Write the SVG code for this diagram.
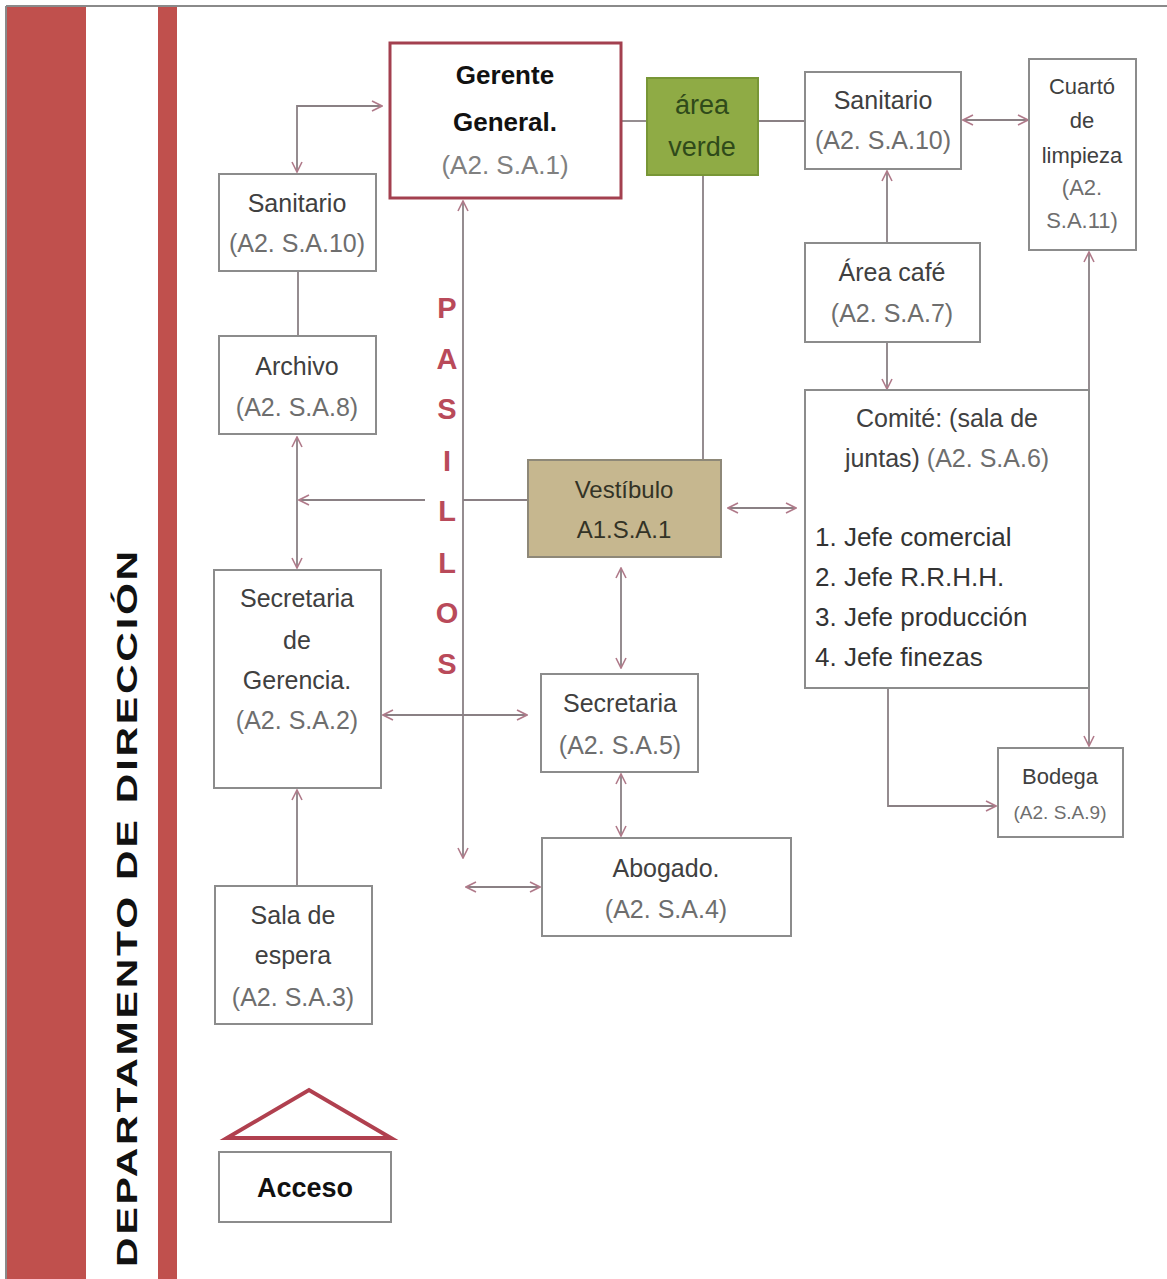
<svg xmlns="http://www.w3.org/2000/svg" width="1167" height="1279" viewBox="0 0 1167 1279">
<style>
.box{fill:#ffffff;stroke:#8c8c8c;stroke-width:2}
.t{font-family:"Liberation Sans",Arial,sans-serif;font-size:25px;fill:#404040;text-anchor:middle}
.c{font-family:"Liberation Sans",Arial,sans-serif;font-size:25px;fill:#6e6e6e;text-anchor:middle}
.li{font-family:"Liberation Sans",Arial,sans-serif;font-size:26px;fill:#333333;text-anchor:start}
.s{font-size:22px}
.b{font-weight:bold;fill:#111111}
.p{font-family:"Liberation Sans",Arial,sans-serif;font-size:29px;font-weight:bold;fill:#b94a5a;text-anchor:middle}
.ln{fill:none;stroke:#8a8084;stroke-width:1.8}
.ar{marker-end:url(#ah)}
.ar2{marker-start:url(#ah);marker-end:url(#ah)}
</style>
<defs>
<marker id="ah" viewBox="0 0 12 12" refX="11" refY="6" markerWidth="12" markerHeight="12" markerUnits="userSpaceOnUse" orient="auto-start-reverse">
<path d="M1,1 L11,6 L1,11" fill="none" stroke="#b07a8a" stroke-width="1.6"/>
</marker>
</defs>
<rect x="0" y="0" width="1167" height="1279" fill="#ffffff"/>
<g id="frame">
<line x1="6" y1="6" x2="1167" y2="6" stroke="#8a8a8a" stroke-width="2"/>
<line x1="6" y1="6" x2="6" y2="1279" stroke="#8a8a8a" stroke-width="2"/>
<rect x="7" y="7" width="79" height="1272" fill="#c0504d"/>
<rect x="158" y="7" width="19" height="1272" fill="#c0504d"/>
<text transform="translate(137,1267) rotate(-90)" font-family="'Liberation Sans',Arial,sans-serif" font-size="29" font-weight="bold" fill="#111111" letter-spacing="2" textLength="719" lengthAdjust="spacingAndGlyphs">DEPARTAMENTO DE   DIRECCIÓN</text>
</g>
<g id="connectors">
<path class="ln ar2" d="M297,172 V106 H382"/>
<line class="ln" x1="298" y1="272" x2="298" y2="336"/>
<line class="ln ar2" x1="297" y1="437" x2="297" y2="568"/>
<line class="ln ar" x1="425" y1="500" x2="299" y2="500"/>
<line class="ln" x1="463" y1="500" x2="528" y2="500"/>
<line class="ln ar2" x1="463" y1="201" x2="463" y2="858"/>
<line class="ln" x1="621" y1="121" x2="647" y2="121"/>
<line class="ln" x1="758" y1="121" x2="805" y2="121"/>
<line class="ln" x1="703" y1="175" x2="703" y2="460"/>
<line class="ln ar2" x1="963" y1="120" x2="1028" y2="120"/>
<line class="ln ar" x1="887" y1="243" x2="887" y2="171"/>
<line class="ln ar" x1="887" y1="342" x2="887" y2="389"/>
<line class="ln ar2" x1="1089" y1="252" x2="1089" y2="746"/>
<line class="ln ar2" x1="728" y1="508" x2="796" y2="508"/>
<line class="ln ar2" x1="621" y1="568" x2="621" y2="668"/>
<line class="ln ar2" x1="383" y1="715" x2="527" y2="715"/>
<line class="ln ar2" x1="621" y1="774" x2="621" y2="836"/>
<line class="ln ar2" x1="466" y1="887" x2="540" y2="887"/>
<path class="ln ar" d="M888,688 V806 H996"/>
<line class="ln ar" x1="297" y1="886" x2="297" y2="790"/>
</g>
<g id="pasillos">
<text class="p" x="447" y="318">P</text>
<text class="p" x="447" y="369">A</text>
<text class="p" x="447" y="419">S</text>
<text class="p" x="447" y="471">I</text>
<text class="p" x="447" y="521">L</text>
<text class="p" x="447" y="573">L</text>
<text class="p" x="447" y="623">O</text>
<text class="p" x="447" y="674">S</text>
</g>
<g id="gerente">
<rect x="390" y="43" width="231" height="155" fill="#ffffff" stroke="#a3404f" stroke-width="3"/>
<text class="t b" x="505" y="84" style="font-size:26px">Gerente</text>
<text class="t b" x="505" y="131" style="font-size:26px">General.</text>
<text class="c" x="505" y="174" style="font-size:26px;fill:#808080">(A2. S.A.1)</text>
</g>
<g id="area-verde">
<rect x="647" y="78" width="111" height="97" fill="#8fab45" stroke="#789636" stroke-width="2"/>
<text class="t" x="702" y="114" style="font-size:27px;fill:#2f4a1a">área</text>
<text class="t" x="702" y="156" style="font-size:27px;fill:#2f4a1a">verde</text>
</g>
<g id="sanitario-izq">
<rect class="box" x="219" y="174" width="157" height="97"/>
<text class="t" x="297" y="212">Sanitario</text>
<text class="c" x="297" y="252">(A2. S.A.10)</text>
</g>
<g id="archivo">
<rect class="box" x="219" y="336" width="157" height="98"/>
<text class="t" x="297" y="375">Archivo</text>
<text class="c" x="297" y="416">(A2. S.A.8)</text>
</g>
<g id="sanitario-der">
<rect class="box" x="805" y="72" width="156" height="97"/>
<text class="t" x="883" y="109">Sanitario</text>
<text class="c" x="883" y="149">(A2. S.A.10)</text>
</g>
<g id="cuarto-limpieza">
<rect class="box" x="1029" y="59" width="107" height="191"/>
<text class="t s" x="1082" y="94">Cuartó</text>
<text class="t s" x="1082" y="128">de</text>
<text class="t s" x="1082" y="163">limpieza</text>
<text class="c s" x="1082" y="195">(A2.</text>
<text class="c s" x="1082" y="228">S.A.11)</text>
</g>
<g id="area-cafe">
<rect class="box" x="805" y="243" width="175" height="99"/>
<text class="t" x="892" y="281">Área café</text>
<text class="c" x="892" y="322">(A2. S.A.7)</text>
</g>
<g id="comite">
<rect class="box" x="805" y="390" width="284" height="298"/>
<text class="t" x="947" y="427">Comité: (sala de</text>
<text class="t" x="947" y="467">juntas) <tspan style="fill:#6e6e6e">(A2. S.A.6)</tspan></text>
<text class="li" x="815" y="546">1.  Jefe comercial</text>
<text class="li" x="815" y="586">2.  Jefe R.R.H.H.</text>
<text class="li" x="815" y="626">3.  Jefe producción</text>
<text class="li" x="815" y="666">4.  Jefe finezas</text>
</g>
<g id="vestibulo">
<rect x="528" y="460" width="193" height="97" fill="#c6b78f" stroke="#8e8878" stroke-width="2"/>
<text class="t" x="624" y="498" style="font-size:24px;fill:#333326">Vestíbulo</text>
<text class="t" x="624" y="538" style="font-size:24px;fill:#333326">A1.S.A.1</text>
</g>
<g id="secretaria-gerencia">
<rect class="box" x="214" y="570" width="167" height="218"/>
<text class="t" x="297" y="607">Secretaria</text>
<text class="t" x="297" y="649">de</text>
<text class="t" x="297" y="689">Gerencia.</text>
<text class="c" x="297" y="729">(A2. S.A.2)</text>
</g>
<g id="secretaria">
<rect class="box" x="541" y="674" width="157" height="98"/>
<text class="t" x="620" y="712">Secretaria</text>
<text class="c" x="620" y="754">(A2. S.A.5)</text>
</g>
<g id="abogado">
<rect class="box" x="542" y="838" width="249" height="98"/>
<text class="t" x="666" y="877">Abogado.</text>
<text class="c" x="666" y="918">(A2. S.A.4)</text>
</g>
<g id="bodega">
<rect class="box" x="998" y="748" width="125" height="89"/>
<text class="t s" x="1060" y="784">Bodega</text>
<text class="c" x="1060" y="819" style="font-size:19px">(A2. S.A.9)</text>
</g>
<g id="sala-espera">
<rect class="box" x="215" y="886" width="157" height="138"/>
<text class="t" x="293" y="924">Sala de</text>
<text class="t" x="293" y="964">espera</text>
<text class="c" x="293" y="1006">(A2. S.A.3)</text>
</g>
<g id="acceso">
<polygon points="227,1138 309,1090 391,1138" fill="none" stroke="#b0404f" stroke-width="4" stroke-linejoin="miter"/>
<rect class="box" x="219" y="1152" width="172" height="70"/>
<text class="t b" x="305" y="1197" style="font-size:27px">Acceso</text>
</g>
</svg>
